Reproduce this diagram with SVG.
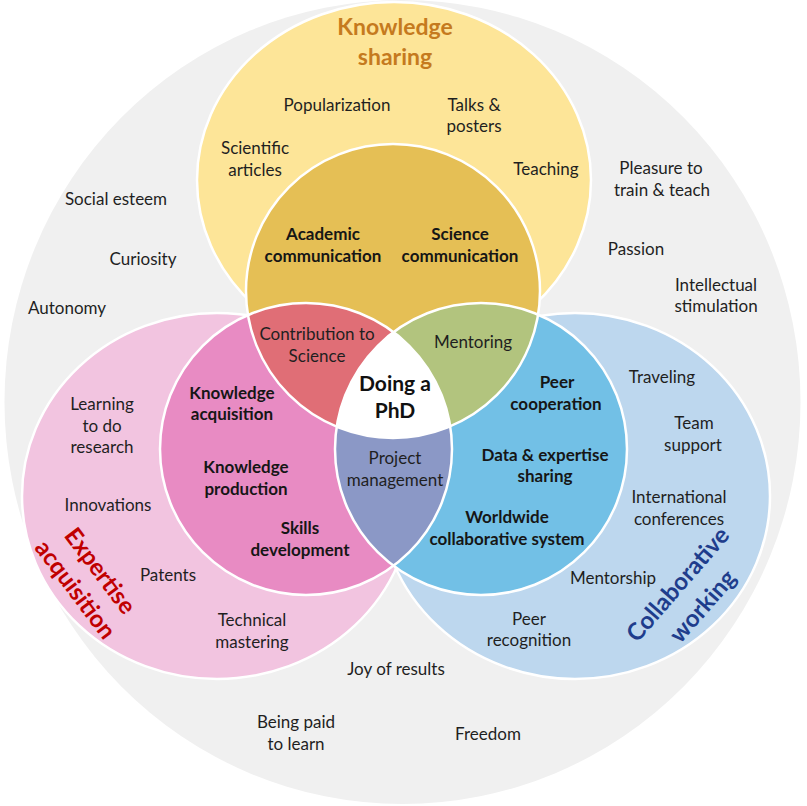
<svg xmlns="http://www.w3.org/2000/svg" width="807" height="806" viewBox="0 0 807 806">
<defs>
<style>
text{font-family:Lato,"Liberation Sans",sans-serif;text-anchor:middle}
.r{font-size:17px;fill:#1f1f1f}
.b{font-size:17px;font-weight:bold;fill:#161616}
.t{font-size:23px;font-weight:bold}
.t2{font-size:24px;font-weight:bold}
.ws{stroke:#fff;stroke-width:2.5}
</style>
<clipPath id="clipGold"><circle cx="393" cy="291" r="147"/></clipPath>
<clipPath id="clipPink"><circle cx="306" cy="449" r="146"/></clipPath>
</defs>
<rect width="807" height="806" fill="#fff"/>
<g id="background"><ellipse cx="402.5" cy="402" rx="398" ry="402" fill="#f0f0f0"/></g>
<g id="outer-circles">
<ellipse id="knowledge-sharing-outer" cx="394" cy="180" rx="197" ry="178" fill="#fde598" class="ws"/>
<ellipse id="expertise-outer" cx="217" cy="496" rx="195" ry="183" fill="#f2c4e0" class="ws"/>
<ellipse id="collab-outer" cx="575" cy="496" rx="195" ry="183" fill="#bdd7ee" class="ws"/>
</g>
<g id="inner-circles">
<circle id="knowledge-sharing-inner" cx="393" cy="291" r="147" fill="#e5bf55"/>
<circle id="expertise-inner" cx="306" cy="449" r="146" fill="#e88bc3"/>
<circle id="collab-inner" cx="481" cy="449" r="146" fill="#72c0e6"/>
</g>
<g id="intersections">
<circle id="contribution" cx="306" cy="449" r="146" fill="#e06e76" clip-path="url(#clipGold)"/>
<circle id="mentoring" cx="481" cy="449" r="146" fill="#b2c47e" clip-path="url(#clipGold)"/>
<circle id="project" cx="481" cy="449" r="146" fill="#8b98c6" clip-path="url(#clipPink)"/>
<g id="phd" clip-path="url(#clipGold)"><circle cx="481" cy="449" r="146" fill="#fff" clip-path="url(#clipPink)"/></g>
</g>
<g id="outlines" fill="none" class="ws">
<circle cx="393" cy="291" r="147"/>
<circle cx="306" cy="449" r="146"/>
<circle cx="481" cy="449" r="146"/>
</g>
<g id="titles">
<text class="t" fill="#c57a1e" x="395" y="35">Knowledge</text>
<text class="t" fill="#c57a1e" x="395" y="65">sharing</text>
<g transform="translate(88,580) rotate(53)">
<text class="t2" x="0" y="-7" fill="#c00000">Expertise</text>
<text class="t2" x="0" y="24" fill="#c00000">acquisition</text>
</g>
<g transform="translate(690,595) rotate(-49)">
<text class="t2" x="0" y="-8" fill="#1f3d8c">Collaborative</text>
<text class="t2" x="0" y="25" fill="#1f3d8c">working</text>
</g>
</g>
<g id="labels-knowledge-sharing">
<text class="r" x="337" y="111">Popularization</text>
<text class="r" x="474" y="111">Talks &amp;</text>
<text class="r" x="474" y="132">posters</text>
<text class="r" x="255" y="154">Scientific</text>
<text class="r" x="255" y="176">articles</text>
<text class="r" x="546" y="175">Teaching</text>
<text class="b" x="323" y="240">Academic</text>
<text class="b" x="323" y="262">communication</text>
<text class="b" x="460" y="240">Science</text>
<text class="b" x="460" y="262">communication</text>
</g>
<g id="labels-outside">
<text class="r" x="116" y="205">Social esteem</text>
<text class="r" x="143" y="265">Curiosity</text>
<text class="r" x="67" y="314">Autonomy</text>
<text class="r" x="661" y="174">Pleasure to</text>
<text class="r" x="662" y="196">train &amp; teach</text>
<text class="r" x="636" y="255">Passion</text>
<text class="r" x="716" y="291">Intellectual</text>
<text class="r" x="716" y="312">stimulation</text>
<text class="r" x="396" y="675">Joy of results</text>
<text class="r" x="296" y="728">Being paid</text>
<text class="r" x="296" y="750">to learn</text>
<text class="r" x="488" y="740">Freedom</text>
</g>
<g id="labels-expertise">
<text class="r" x="102" y="410">Learning</text>
<text class="r" x="102" y="432">to do</text>
<text class="r" x="102" y="453">research</text>
<text class="r" x="108" y="511">Innovations</text>
<text class="r" x="168" y="581">Patents</text>
<text class="r" x="252" y="626">Technical</text>
<text class="r" x="252" y="648">mastering</text>
<text class="b" x="232" y="399">Knowledge</text>
<text class="b" x="232" y="420">acquisition</text>
<text class="b" x="246" y="473">Knowledge</text>
<text class="b" x="246" y="495">production</text>
<text class="b" x="300" y="534">Skills</text>
<text class="b" x="300" y="556">development</text>
</g>
<g id="labels-center">
<text class="r" x="317" y="340">Contribution to</text>
<text class="r" x="317" y="362">Science</text>
<text class="r" x="473" y="348">Mentoring</text>
<text class="r" x="395" y="464">Project</text>
<text class="r" x="395" y="486">management</text>
<text class="b" x="395" y="391" style="font-size:21px;fill:#111">Doing a</text>
<text class="b" x="395" y="418" style="font-size:21px;fill:#111">PhD</text>
</g>
<g id="labels-collab">
<text class="b" x="557" y="388">Peer</text>
<text class="b" x="556" y="410">cooperation</text>
<text class="b" x="545" y="461">Data &amp; expertise</text>
<text class="b" x="545" y="482">sharing</text>
<text class="b" x="507" y="523">Worldwide</text>
<text class="b" x="507" y="545">collaborative system</text>
<text class="r" x="662" y="383">Traveling</text>
<text class="r" x="694" y="429">Team</text>
<text class="r" x="693" y="451">support</text>
<text class="r" x="679" y="503">International</text>
<text class="r" x="679" y="525">conferences</text>
<text class="r" x="613" y="584">Mentorship</text>
<text class="r" x="529" y="625">Peer</text>
<text class="r" x="529" y="646">recognition</text>
</g>
</svg>
